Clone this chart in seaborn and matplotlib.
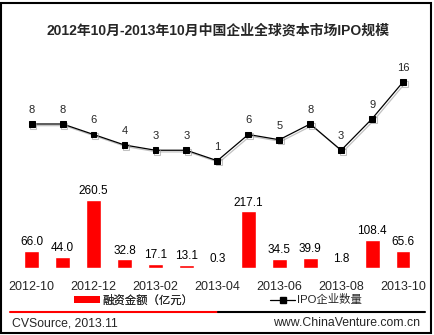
import numpy as np
import matplotlib
matplotlib.use("Agg")
import matplotlib.pyplot as plt
import matplotlib.patheffects as pe
from matplotlib.lines import Line2D
from matplotlib.patches import Patch, Rectangle
import seaborn as sns

# Monthly IPO data for Chinese companies on global capital markets
months = ["2012-10", "2012-11", "2012-12", "2013-01", "2013-02", "2013-03", "2013-04",
          "2013-05", "2013-06", "2013-07", "2013-08", "2013-09", "2013-10"]
amounts = [66.0, 44.0, 260.5, 32.8, 17.1, 13.1, 0.3, 217.1, 34.5, 39.9, 1.8, 108.4, 65.6]
counts = [8, 8, 6, 4, 3, 3, 1, 6, 5, 8, 3, 9, 16]

title = "2012年10月-2013年10月中国企业全球资本市场IPO规模"
bar_label = "融资金额（亿元）"
line_label = "IPO企业数量"
source_left = "CVSource, 2013.11"
source_right = "www.ChinaVenture.com.cn"

sns.set_style("white")
plt.rcParams["font.family"] = ["Liberation Sans", "Noto Sans CJK SC", "DejaVu Sans"]

W, H = 435, 335
fig = plt.figure(figsize=(W / 100, H / 100), dpi=100)
fig.patch.set_facecolor("white")

# Plot area in pixel terms
left, right, top, bottom = 16.2, 418.5, 60, 268
ax = fig.add_axes([left / W, 1 - bottom / H, (right - left) / W, (bottom - top) / H])
ax.set_facecolor("none")

sns.barplot(x=months, y=amounts, color="#FF0000", saturation=1, width=0.48, ax=ax)
ax.set_xlim(-0.5, len(months) - 0.5)
ax.set_ylim(0, (bottom - top) / 0.261)
ax.bar_label(ax.containers[0], labels=[f"{v:.1f}" for v in amounts],
             padding=2, fontsize=8.5, color="black")

# Label every other month
tick_pos = list(range(0, len(months), 2))
ax.set_xticks(tick_pos)
ax.set_xticklabels([months[i] for i in tick_pos], fontsize=9)
ax.tick_params(axis="x", length=0, pad=9.5)
ax.set_yticks([])
ax.set_xlabel("")
ax.set_ylabel("")
for s in ax.spines.values():
    s.set_visible(False)

# Secondary axis for the IPO count line
ax2 = ax.twinx()
ax2.set_ylim(-(bottom - 166) / 5.25, (166 - top) / 5.25)
x = np.arange(len(counts))
sns.lineplot(x=x, y=counts, ax=ax2, color="black", linewidth=0.9, marker="s",
             markersize=4.2, markeredgecolor="black", markerfacecolor="black")
for ln in ax2.lines:
    ln.set_path_effects([pe.SimpleLineShadow(offset=(1.2, -1.2), shadow_color="#999999", alpha=0.6),
                         pe.Normal()])
for i, c in enumerate(counts):
    ax2.annotate(str(c), (i, c), xytext=(0, 6.5), textcoords="offset points",
                 ha="center", va="bottom", fontsize=8)
ax2.set_yticks([])
ax2.set_ylabel("")
for s in ax2.spines.values():
    s.set_visible(False)

# Title
fig.text(218 / W, 1 - 31 / H, title, ha="center", va="center",
         fontsize=10, fontweight="bold")

# Legend entries
leg1 = fig.legend(handles=[Patch(facecolor="#FF0000", edgecolor="none")], labels=[bar_label],
                  loc="center left", bbox_to_anchor=(74 / W, 1 - 300 / H), frameon=False,
                  fontsize=8.2, handlelength=2.3, handleheight=0.6, handletextpad=0.2,
                  borderpad=0, borderaxespad=0)
leg2 = fig.legend(handles=[Line2D([], [], color="black", lw=0.9, marker="s", markersize=4)],
                  labels=[line_label], loc="center left", bbox_to_anchor=(270 / W, 1 - 300 / H),
                  frameon=False, fontsize=8.2, handlelength=2.2, handletextpad=0.15,
                  borderpad=0, borderaxespad=0)
fig.add_artist(leg1)

# Footer rule and source text
y_rule = 1 - 312 / H
fig.add_artist(Line2D([10 / W, 218 / W], [y_rule, y_rule], color="#FF0000", lw=1.5,
                      transform=fig.transFigure))
fig.add_artist(Line2D([218 / W, 425 / W], [y_rule, y_rule], color="black", lw=1.5,
                      transform=fig.transFigure))
fig.text(12 / W, 1 - 323 / H, source_left, ha="left", va="center", fontsize=8.8)
fig.text(420 / W, 1 - 323 / H, source_right, ha="right", va="center", fontsize=8.8)

# Outer frame
fig.add_artist(Rectangle((1.5 / W, 2.5 / H), (431.5 - 1.5) / W, (332.5 - 2.5) / H,
                         fill=False, edgecolor="black", lw=1.5, transform=fig.transFigure))

fig.savefig("out.png", dpi=100)
